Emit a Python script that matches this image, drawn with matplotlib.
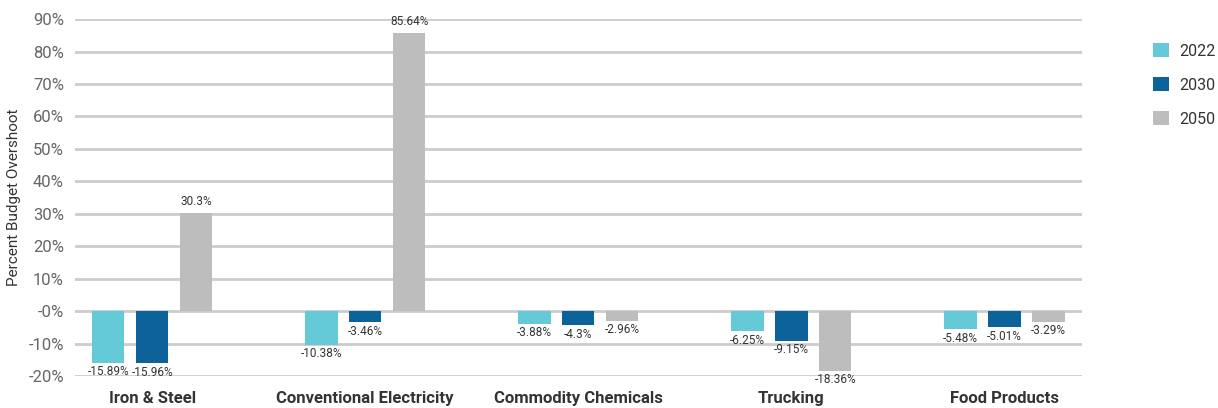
import matplotlib
matplotlib.use("Agg")
import matplotlib.pyplot as plt
import numpy as np
from matplotlib.patches import Patch

plt.rcParams['font.family'] = ['Roboto', 'DejaVu Sans']

categories = ["Iron & Steel", "Conventional Electricity", "Commodity Chemicals", "Trucking", "Food Products"]
series_names = ["2022", "2030", "2050"]
v2022 = [-15.89, -10.38, -3.88, -6.25, -5.48]
v2030 = [-15.96, -3.46, -4.3, -9.15, -5.01]
v2050 = [30.3, 85.64, -2.96, -18.36, -3.29]
labels2022 = ["-15.89%", "-10.38%", "-3.88%", "-6.25%", "-5.48%"]
labels2030 = ["-15.96%", "-3.46%", "-4.3%", "-9.15%", "-5.01%"]
labels2050 = ["30.3%", "85.64%", "-2.96%", "-18.36%", "-3.29%"]
yticks = [-20, -10, 0, 10, 20, 30, 40, 50, 60, 70, 80, 90]
ytick_labels = ["-20%", "-10%", "-0%", "10%", "20%", "30%", "40%", "50%", "60%", "70%", "80%", "90%"]
colors = ["#64CAD7", "#0B6399", "#BDBDBD"]

fig = plt.figure(figsize=(12.18, 4.08), dpi=100)
ax = fig.add_axes([0.0616, 0.0784, 0.8264, 0.8746])

x = np.arange(len(categories))
width = 0.152
step = 0.206
for i, (vals, labs) in enumerate(zip([v2022, v2030, v2050], [labels2022, labels2030, labels2050])):
    xs = x + (i - 1) * step
    ax.bar(xs, vals, width=width, color=colors[i], zorder=3)
    for xi, v, lab in zip(xs, vals, labs):
        if v >= 0:
            ax.text(xi, v + 1.5, lab, ha='center', va='bottom', fontsize=8.5, color='#333333', zorder=4)
        else:
            ax.text(xi, v - 0.8, lab, ha='center', va='top', fontsize=8.5, color='#333333', zorder=4)

ax.set_xlim(-0.362, 4.362)
ax.set_ylim(-20, 90)
ax.set_yticks(yticks)
ax.set_yticklabels(ytick_labels, fontsize=12, color='#666666')
ax.set_xticks(x)
ax.set_xticklabels(categories, fontsize=12, fontweight='bold', color='#333333')
ax.tick_params(axis='x', length=0, pad=11)
ax.tick_params(axis='y', length=0, pad=8)
ax.grid(axis='y', color='#CCCCCC', linewidth=2, zorder=0)
for s in ax.spines.values():
    s.set_visible(False)
ax.set_ylabel("Percent Budget Overshoot", fontsize=11, color='#333333', labelpad=5)

handles = [Patch(facecolor=c, edgecolor='none') for c in colors]
fig.legend(handles, series_names, loc='upper left', bbox_to_anchor=(0.935, 0.93),
           frameon=False, fontsize=11.5, handlelength=1.0, handleheight=1.0,
           labelspacing=1.15, handletextpad=0.6, labelcolor='#333333')

fig.savefig("out.png", dpi=100)
